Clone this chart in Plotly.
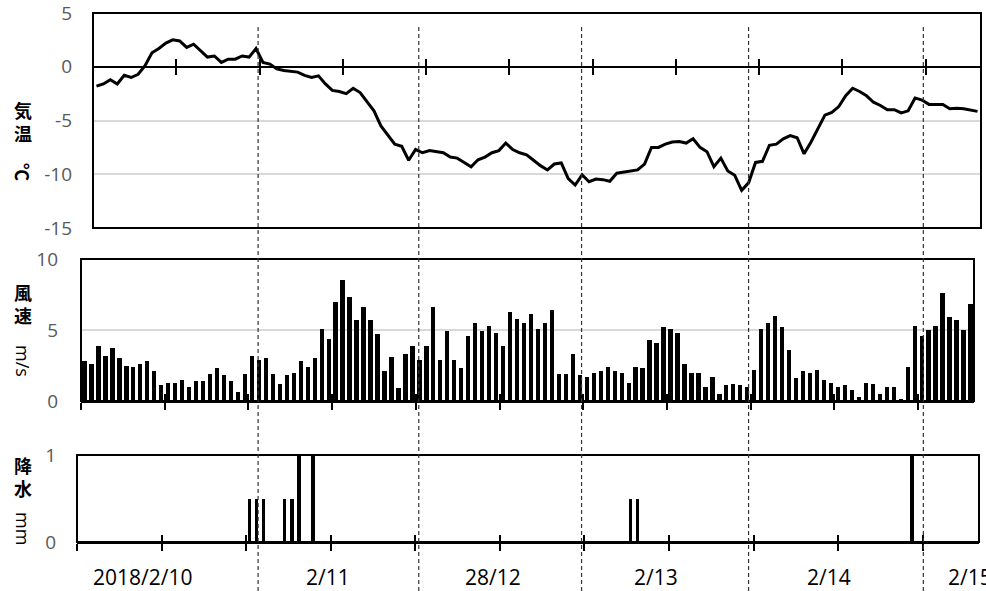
import plotly.graph_objects as go

# ---------------- data (hourly, 2018/2/10 00:00 onward, 128 hours) ----------------
HOURS = list(range(128))

TEMP = [
    -1.8, -1.6, -1.2, -1.6, -0.8, -1.0, -0.7, 0.1, 1.3, 1.7, 2.2, 2.5,
    2.4, 1.8, 2.1, 1.5, 0.9, 1.0, 0.4, 0.7, 0.7, 1.0, 0.9, 1.7,
    0.4, 0.25, -0.2, -0.35, -0.4, -0.5, -0.8, -1.0, -0.85, -1.6, -2.2, -2.3,
    -2.5, -2.0, -2.4, -3.3, -4.1, -5.5, -6.4, -7.2, -7.4, -8.7, -7.7, -8.0,
    -7.8, -7.9, -8.0, -8.4, -8.5, -8.9, -9.3, -8.65, -8.4, -8.0, -7.8, -7.1,
    -7.7, -8.0, -8.2, -8.7, -9.2, -9.6, -9.05, -8.95, -10.4, -11.0, -10.05, -10.7,
    -10.45, -10.5, -10.65, -9.9, -9.8, -9.75, -9.6, -9.05, -7.5, -7.5, -7.2, -7.0,
    -6.95, -7.1, -6.7, -7.5, -7.9, -9.3, -8.5, -9.7, -10.1, -11.5, -10.8, -8.9,
    -8.8, -7.3, -7.2, -6.7, -6.4, -6.6, -8.1, -7.0, -5.8, -4.5, -4.25, -3.7,
    -2.7, -2.0, -2.3, -2.7, -3.3, -3.6, -4.0, -4.0, -4.3, -4.1, -2.9, -3.1,
    -3.5, -3.5, -3.5, -3.9, -3.85, -3.9, -4.0, -4.15,
]

WIND = [
    2.8, 2.6, 3.9, 3.2, 3.7, 3.0, 2.5, 2.4, 2.6, 2.8, 2.1, 1.1,
    1.3, 1.3, 1.5, 1.0, 1.4, 1.4, 1.9, 2.3, 1.8, 1.4, 0.6, 1.9,
    3.2, 2.9, 3.0, 1.9, 1.2, 1.8, 2.0, 2.8, 2.4, 3.0, 5.1, 4.4,
    7.0, 8.5, 7.3, 5.7, 6.6, 5.7, 4.7, 2.1, 3.1, 0.9, 3.3, 3.9,
    2.9, 3.9, 6.6, 2.9, 4.9, 2.9, 2.3, 4.6, 5.5, 4.9, 5.3, 4.8,
    3.9, 6.3, 5.8, 5.5, 6.1, 5.1, 5.5, 6.4, 1.9, 1.9, 3.3, 1.8,
    1.7, 2.0, 2.1, 2.4, 2.1, 2.0, 1.3, 2.4, 2.3, 4.3, 4.1, 5.2,
    5.1, 4.8, 2.6, 2.0, 2.0, 1.0, 1.7, 0.5, 1.1, 1.2, 1.1, 1.0,
    2.2, 5.1, 5.5, 6.0, 5.2, 3.6, 1.6, 2.1, 2.0, 2.2, 1.5, 1.3,
    1.0, 1.1, 0.8, 0.3, 1.3, 1.2, 0.5, 1.0, 1.0, 0.1, 2.4, 5.3,
    4.6, 5.0, 5.3, 7.6, 5.9, 5.7, 5.0, 6.8,
]

PRECIP = [
    0, 0, 0, 0, 0, 0, 0, 0, 0, 0, 0, 0, 0, 0, 0, 0, 0, 0, 0, 0, 0, 0, 0, 0,
    0.5, 0.5, 0.5, 0, 0, 0.5, 0.5, 1.0, 0, 1.0, 0, 0, 0, 0, 0, 0, 0, 0, 0, 0, 0, 0, 0, 0,
    0, 0, 0, 0, 0, 0, 0, 0, 0, 0, 0, 0, 0, 0, 0, 0, 0, 0, 0, 0, 0, 0, 0, 0,
    0, 0, 0, 0, 0, 0, 0.5, 0.5, 0, 0, 0, 0, 0, 0, 0, 0, 0, 0, 0, 0, 0, 0, 0, 0,
    0, 0, 0, 0, 0, 0, 0, 0, 0, 0, 0, 0, 0, 0, 0, 0, 0, 0, 0, 0, 0, 0, 1.0, 0,
    0, 0, 0, 0, 0, 0, 0, 0,
]

DATE_LABELS = ["2018/2/10", "2/11", "28/12", "2/13", "2/14", "2/15"]
DATE_LABEL_POS = [8.8, 35.1, 58.5, 81.6, 106.2, 126.2]   # in hour units (bottom axis)
DAY_LINES = [25.2, 48.0, 71.1, 94.8, 119.6]              # hand-drawn dashed separators
TICK_HOURS = [-0.5 + 12 * k for k in range(11)]

TEMP_TICKS = [-15, -10, -5, 0, 5]
WIND_TICKS = [0, 5, 10]
PRECIP_TICKS = [0, 1]

# ---------------- geometry ----------------
W, H = 986, 591


def px_x(a, b):
    return [a / W, b / W]


def px_y(top, bottom):
    return [1 - bottom / H, 1 - top / H]


dom_x1, dom_y1 = px_x(93, 981), px_y(13, 228)
dom_x2, dom_y2 = px_x(81, 974), px_y(259, 401)
dom_x3, dom_y3 = px_x(77, 979), px_y(455, 542)

zero_pos = dom_y1[0] + (0 - (-15)) / 20 * (dom_y1[1] - dom_y1[0])

fig = go.Figure()
fig.add_trace(go.Scatter(x=HOURS, y=TEMP, mode="lines",
                         line=dict(color="black", width=3),
                         xaxis="x", yaxis="y", showlegend=False, hoverinfo="skip"))
fig.add_trace(go.Bar(x=HOURS, y=WIND, width=0.62, marker=dict(color="black", line=dict(width=0)),
                     xaxis="x2", yaxis="y2", showlegend=False))
fig.add_trace(go.Bar(x=HOURS, y=PRECIP, width=0.45, marker=dict(color="black", line=dict(width=0)),
                     xaxis="x3", yaxis="y3", showlegend=False))

minor_vals = [v + 0.002 for v in TICK_HOURS]


def xax(domain, **kw):
    d = dict(domain=domain, range=[-0.5, 127.5], showgrid=False, zeroline=False,
             showline=True, linecolor="black", linewidth=2, automargin=False,
             tickmode="array", tickvals=TICK_HOURS, ticks="outside", ticklen=7,
             tickwidth=2, tickcolor="black", showticklabels=False,
             minor=dict(tickmode="array", tickvals=minor_vals, ticks="inside",
                        ticklen=7, tickwidth=2, tickcolor="black", showgrid=False))
    d.update(kw)
    return d


tickfont = dict(family="Open Sans", size=19, color="#595959")


def yax(domain, rng, vals, grid, standoff, anchor):
    return dict(domain=domain, range=rng, tickmode="array", tickvals=vals,
                ticktext=[str(v) for v in vals], ticklabeloverflow="allow",
                showgrid=grid, gridcolor="#d9d9d9", gridwidth=1.5, automargin=False,
                zeroline=False, showline=False, ticks="", anchor=anchor,
                tickfont=tickfont, ticklabelstandoff=standoff)


fig.update_layout(
    width=W, height=H,
    margin=dict(l=0, r=0, t=0, b=0, pad=0, autoexpand=False),
    paper_bgcolor="white", plot_bgcolor="white",
    showlegend=False,
    xaxis=xax(dom_x1, anchor="free", position=zero_pos),
    yaxis=yax(dom_y1, [-15, 5], TEMP_TICKS, True, 20, "x"),
    xaxis2=xax(dom_x2, anchor="y2"),
    yaxis2=yax(dom_y2, [0, 10], WIND_TICKS, True, 22, "x2"),
    xaxis3=xax(dom_x3, anchor="y3"),
    yaxis3=yax(dom_y3, [0, 1], PRECIP_TICKS, False, 20, "x3"),
    bargap=0,
)

# frames
shapes = []
for xr, yr in (("x", "y"), ("x2", "y2"), ("x3", "y3")):
    shapes.append(dict(type="rect", xref=f"{xr} domain", yref=f"{yr} domain",
                       x0=0, x1=1, y0=0, y1=1, line=dict(color="black", width=2),
                       layer="above"))
for d in DAY_LINES:
    shapes.append(dict(type="line", xref="x3", yref="paper", x0=d, x1=d,
                       y0=0, y1=1 - 24 / H,
                       line=dict(color="#333333", width=1.2, dash="4px,3px"),
                       layer="above"))
fig.update_layout(shapes=shapes)

annotations = []
for lbl, pos in zip(DATE_LABELS, DATE_LABEL_POS):
    annotations.append(dict(text=lbl, x=pos, xref="x3", y=1 - 576.5 / H, yref="paper",
                            showarrow=False, xanchor="center", yanchor="middle",
                            font=dict(family="Open Sans", size=21, color="black")))

cjk = dict(family="Noto Sans CJK JP", size=18, color="black", weight="bold")
lat = dict(family="Open Sans", size=18, color="black")
ytitle_parts = [
    ("気<br>温", 121, 0, cjk), ("℃", 172, 90, cjk),
    ("風<br>速", 304, 0, cjk), ("m/s", 361, 90, lat),
    ("降<br>水", 476, 0, cjk), ("mm", 528, 90, lat),
]
for txt, ypix, ang, f in ytitle_parts:
    annotations.append(dict(text=txt, x=23 / W, xref="paper", y=1 - ypix / H, yref="paper",
                            showarrow=False, xanchor="center", yanchor="middle",
                            textangle=ang, font=f, borderpad=0))
fig.update_layout(annotations=annotations)

fig.write_html("out.html",
               config={"displayModeBar": False},
               post_script="document.body.style.margin='0px';document.body.style.overflow='hidden';")
